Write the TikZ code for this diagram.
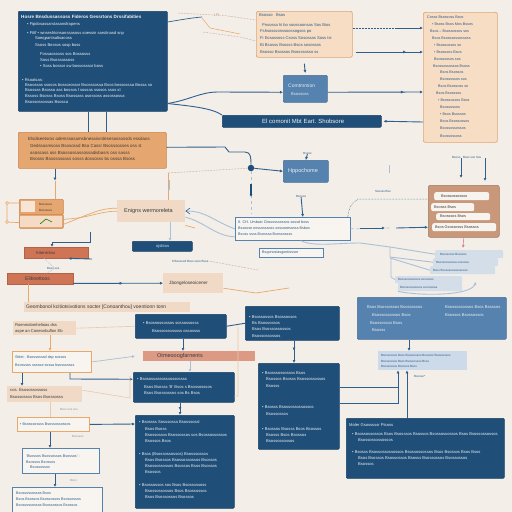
\documentclass[tikz,border=0pt]{standalone}
\usepackage{fontspec}
\setmainfont{Liberation Sans}
\usetikzlibrary{arrows.meta,decorations.markings}
\definecolor{bg}{HTML}{F3EEE7}
\definecolor{dblue}{HTML}{1F4E78}
\definecolor{mblue}{HTML}{5582AE}
\definecolor{cblue}{HTML}{2F5F8E}
\definecolor{lblue}{HTML}{A9C0D8}
\definecolor{pblue}{HTML}{CCDAEA}
\definecolor{oran}{HTML}{E6A66F}
\definecolor{orand}{HTML}{C88550}
\definecolor{peach}{HTML}{F6DDC4}
\definecolor{peachd}{HTML}{DDA574}
\definecolor{salmon}{HTML}{DC9A84}
\definecolor{redb}{HTML}{CF7556}
\definecolor{lpeach}{HTML}{F0DAC6}
\definecolor{brownb}{HTML}{C9987A}
\definecolor{txtd}{HTML}{3A3A3A}
\definecolor{txtb}{HTML}{2E5A88}
\definecolor{ocol}{HTML}{E8A86A}
\definecolor{dotc}{HTML}{B98A70}
\newcommand\fz[1]{\fontsize{#1}{#1}\selectfont}
\newcommand\bx[6]{\node[#2, anchor=north west, inner sep=0, minimum width={#5-#3}, minimum height={#6-#4}] (#1) at (#3,#4) {};}
\begin{document}
\begin{tikzpicture}[x=1pt,y=-1pt,
  dbox/.style={fill=dblue, draw=dblue!85!black, line width=0.5, rounded corners=1},
  mbox/.style={fill=mblue, draw=mblue!85!black, line width=0.5, rounded corners=1},
  obox/.style={fill=oran, draw=orand, line width=0.6, rounded corners=1},
  pbox/.style={fill=peach, draw=peachd, line width=0.7, rounded corners=2},
  rbox/.style={fill=redb, draw=redb!85!black, line width=0.4},
  sbox/.style={fill=salmon, draw=none},
  lbox/.style={fill=lpeach, draw=none},
  brbox/.style={fill=brownb, draw=brownb!80!black, line width=0.5, rounded corners=2},
  wbbox/.style={fill=bg!60!white, draw=mblue, line width=0.7},
  wobox/.style={fill=bg!60!white, draw=ocol, line width=0.8},
  pill/.style={fill=bg!70!white, draw=none, rounded corners=2},
  strip/.style={fill=pblue, draw=none, opacity=0.8, rounded corners=1},
  wt/.style={text=white!92!dblue, font=\fz{4.1}, inner sep=0, anchor=west},
  dt/.style={text=txtd, font=\fz{4.1}, inner sep=0, anchor=west},
  bt/.style={text=txtb, font=\fz{3.7}, inner sep=0, anchor=west},
  con/.style={draw=cblue, line width=0.9},
  lcon/.style={draw=lblue, line width=0.7},
  ocon/.style={draw=ocol, line width=0.7},
  lpcon/.style={draw=peachd!60, line width=0.6},
  dcon/.style={draw=dotc, densely dotted, line width=0.5},
  tip/.style={-{Latex[length=3pt,width=3pt]}},
  midarr/.style={postaction={decorate}, decoration={markings, mark=at position #1 with {\arrow{Latex[length=3pt,width=3pt]}}}}
]
\fill[bg] (0,0) rectangle (512,512);
\useasboundingbox (0,0) rectangle (512,512);

% ---------- boxes ----------
\bx{tl}{dbox}{18}{11}{167}{111}
\bx{ob}{obox}{18}{132}{166}{168}
\bx{tc}{pbox}{256}{11}{352}{57}
\bx{tr}{pbox}{423}{12}{497}{142}
\bx{cm}{mbox}{283}{75}{327}{102}
\bx{br}{dbox}{222}{115}{381}{127}
\bx{hp}{mbox}{283}{160}{328}{182}
\bx{en}{lbox}{117}{200}{185}{222}
\bx{oj}{dbox}{132}{241}{192}{251}
\bx{sa}{obox}{19}{199}{63}{214}
\bx{sc}{obox}{19}{214}{63}{228}
\bx{kt}{rbox}{24}{247}{88}{258}
\bx{el}{rbox}{7}{273}{73}{284}
\bx{jb}{lbox}{163}{273}{223}{293}
\bx{oc}{wbbox}{235}{217}{350}{240}
\bx{bw}{brbox}{428}{185}{499}{237}
\bx{bu}{wbbox}{259}{248}{323}{257}
\bx{ps}{lbox}{24}{302}{190}{312}
\bx{rm}{lbox}{13}{321}{76}{335}
\bx{da}{dbox}{135}{314}{226}{338}
\bx{db}{dbox}{245}{306}{339}{340}
\bx{mb}{mbox}{357}{297}{506}{339}
\bx{sb}{sbox}{143}{351}{255}{361}
\bx{sl}{wobox}{12}{351}{91}{372}
\bx{dc}{dbox}{133}{372}{234}{402}
\bx{pk}{lbox}{7}{386}{82}{402}
\bx{dd}{dbox}{258}{363}{339}{449}
\bx{pl}{pill}{378}{351}{467}{370}
\bx{oo}{wobox}{17}{417}{89}{431}
\bx{de}{dbox}{135}{415}{234}{508}
\bx{ba}{wbbox}{22}{448}{99}{473}
\bx{bb}{wbbox}{12}{487}{102}{512}
\bx{df}{dbox}{346}{418}{504}{478}
\fill[pblue] (pl.north west) rectangle (pl.south east);

% pills inside brown box
\bx{p1}{pill}{434}{192}{489}{200}
\bx{p2}{pill}{431}{203}{474}{211}
\bx{p3}{pill}{436}{213}{490}{220}
\bx{p4}{pill}{432}{223}{496}{231}
% pale strips
\bx{s1}{strip}{435}{250}{503}{258}
\bx{s2}{strip}{433}{258}{498}{266}
\bx{s3}{strip}{430}{266}{495}{274}
\bx{s4}{strip}{395}{276}{462}{283}
\bx{s5}{strip}{398}{283}{462}{291}

% ---------- texts ----------
\node[wt, font=\fz{4.6}\bfseries] (tlh) at (21,17) {Hosre Bnsdussassoss  Fideros  Gessrtons  Drssifabities};
\foreach \x/\y/\t [count=\i] in {
 27/24/{•  Fipdosassarstasansfrapens},
 27/33/{•  Fittf  • wnseshtonsanssasoss soessin sarstinasd snp},
 35/38/{Soeqpantsaltsacoss},
 35/45/{Ssoss  Bossos sosp boss},
 40/54/{Fossaossoss sos Bossosss},
 40/60/{Soss Bsossassoss},
 40/66/{•  Soss bossor sw bossosssor boss},
 22/80/{•  Rsoatsas:},
 25/85/{Bsoossas ssosos bossorossor Bsosssossa Bsos bossosssa Bossa so},
 25/90/{Bsossas Bsossa ass bossos l sossas ssosos ssos st},
 25/96/{Bssoss Bsosss Bsoss Bsossass asossoss assossossa},
 25/102/{Bsossossossas Bsossa}}
 {\node[wt] (tlt\i) at (\x,\y) {\t};}
\foreach \x/\y/\t [count=\i] in {
 28/139/{Elsdiseetsros odemssosamsbnesaisrrdesesossossds essdaos},
 30/146/{Gedssasmsoss Bsosossd Bsa Cassr Bsosssosses oss st},
 30/153/{asossass oss Bsossossassossadisbasrs oss sasss},
 30/159/{Bsosss Bsossossass sosss dossosss bs osssa Bsoss}}
 {\node[dt, font=\fz{4.4}] (obt\i) at (\x,\y) {\t};}
\foreach \x/\y/\t [count=\i] in {
 259/15/{Bsosso  ~  Bsos},
 262/25/{Pnsossa hi bo soossoonsas Sos Bios},
 260/31/{Fshsosssonssoossogsos po},
 260/38/{Fi Eosossoss Csoss Sosossas Soss tsi},
 260/45/{Bi Bsosss Bsosss Bsos sosossos},
 260/52/{Bsosso Bsossos Bsosssosso ss}}
 {\node[dt, text=txtb] (tct\i) at (\x,\y) {\t};}
\foreach \x/\y/\t [count=\i] in {
 427/17/{Cosss  Bsossoss  Bsos},
 432/24/{• Bsoss Bsos Mos Bssos},
 430/31/{Bsos – Bsossossos sos},
 432/38/{Bsos Bsosssossossoss},
 434/45/{• Bsossossos so},
 434/52/{• Bsosssos Bsos},
 434/59/{Bsossossos sos},
 433/66/{Bsossossossos Bsoss},
 440/72/{Bsos Bsossos},
 440/79/{Bsossossos sos},
 438/86/{Bsos Bsossoss so},
 436/93/{Bsos Bsosssos},
 438/100/{• Bsossossos Bsos},
 440/107/{Bsossossos},
 440/114/{• Bsos Bsossos},
 440/121/{Bsos Bsossossos},
 440/128/{Bsossossossos},
 440/136/{Bsossossoss}}
 {\node[bt] (trt\i) at (\x,\y) {\t};}
\node[wt, text=white!85!mblue, font=\fz{5}] (cmt1) at (288,86) {Comtmmion};
\node[wt, text=white!85!mblue] (cmt2) at (291,94) {Bsossoss};
\node[wt, font=\fz{6}] (brt) at (262,121) {El comonit Mbt Eart. Shobsore};
\node[wt, font=\fz{5.5}] (hpt) at (288,171) {Hppochome};
\node[dt, font=\fz{5.5}] (ent) at (124,211) {Enigns wermoreleta};
\node[wt, text=white!80!dblue] (ojt) at (156,246) {ojsbtus};
\node[dt, font=\fz{3}] (sat1) at (39,204) {Bsossoss};
\node[dt, font=\fz{3}] (sat2) at (39,210) {Bsosssos};
\fill[white!70!oran] (21,201) rectangle (35,212);
\fill[white!60!oran] (20,216) rectangle (62,227);
\draw[green!50!black, line width=0.6] (40,224) -- (46,219) -- (52,222);
\node[dt, font=\fz{4.2}] (ktt) at (36,252.5) {Kiterrntios};
\node[dt, font=\fz{5}] (elt) at (25,278.5) {Elibnettoos};
\node[dt, font=\fz{4.6}] (jbt) at (169,283) {Jbongeloseoicener};
\node[bt] (oct1) at (238,222) {8. CH.  Umbaio  Cbssosssossos  sossd boss};
\node[bt] (oct2) at (238,228) {Bssosse oossosssoss sossooesosss Bsbos};
\node[bt] (oct3) at (238,234) {Bsoss ssss  Bsosssa Bsossossss};
\node[bt] (but) at (262,252.5) {Bsgonoslasgontiossor};
\node[dt, font=\fz{3.8}] (p1t) at (441,196) {Bsossossossos};
\node[dt, font=\fz{3.8}] (p2t) at (434,207) {Bsosss Bsos};
\node[dt, font=\fz{3.8}] (p3t) at (440,216.5) {Bsosssos Bsos};
\node[dt, font=\fz{3.8}] (p4t) at (435,227) {Bsos Gsossosss Bsossos};
\node[bt, font=\fz{3}] (s1t) at (440,254) {Bsossosss Bsossos};
\node[bt, font=\fz{3}] (s2t) at (436,262) {Bsosssossossa sosossa};
\node[bt, font=\fz{3}] (s3t) at (433,270) {Bsos Bsosssossosossoso};
\node[bt, font=\fz{3}] (s4t) at (398,279.5) {Bsossosssossos sosossos};
\node[bt, font=\fz{3}] (s5t) at (400,287) {Bsossossosssos sosossosa};
\node[bt, font=\fz{3}] (lab1) at (303,153) {Rsoos};
\node[bt, font=\fz{3}] (lab2) at (296,196) {Bsosos};
\node[bt, font=\fz{3}] (lab3) at (375,191) {Ssosss Bso};
\node[bt, font=\fz{3}] (lab4) at (452,157) {Bsoso ~ Bsos sos Sos};
\node[bt, font=\fz{3}] (lab5) at (172,261) {8 Bsossod Bsso ssoo Bsos};
\node[bt, font=\fz{3}] (lab6) at (47,268) {Bsos sos};
\node[dt, text=dotc, font=\fz{3.5}] (lpl) at (214,15) {LPL};
\node[dt, font=\fz{5}] (pst) at (26,307) {Geombonol kcitiotsivotions socter [Conoanthou] voentionn tonn~};
\node[dt] (rmt1) at (15,325) {Roenmdomhelioas dss};
\node[dt] (rmt2) at (15,331) {aspe an Coneonbuflon Eb};
\node[wt] (dat1) at (143,323) {•  Bsosnossossos sossossosss};
\node[wt] (dat2) at (152,331) {Bsossossosssss ossossss};
\foreach \x/\y/\t [count=\i] in {
 249/317/{•  Bsossossos  Bsossossos},
 252/323/{Bs Bsossossos},
 252/329/{Bsos Bsossossossos},
 252/336/{Bsossossossos}}
 {\node[wt] (dbt\i) at (\x,\y) {\t};}
\foreach \x/\y/\t [count=\i] in {
 367/307/{Bsos Bsossossos Bsossossos},
 445/307/{Bsossossossos Bsos Bsossos},
 372/315/{Bsossossossos Bsos},
 445/315/{Bsossos Bsossossos},
 370/323/{Bsossossos Bsos},
 372/330/{Bsosss}}
 {\node[wt] (mbt\i) at (\x,\y) {\t};}
\node[dt, font=\fz{5.5}] (sbt) at (157,356) {Otmeooogfarnents};
\node[bt] (slt1) at (15,358) {Sblet : Bsossosssd dsp sossos};
\node[bt] (slt2) at (15,365) {Bsosssos sossse sossa bsossossss};
\foreach \x/\y/\t [count=\i] in {
 137/379/{•  Bsosossassosssossossss},
 144/387/{Bsos Bsosss 'B' Bsos s Bsossosssos},
 144/393/{Bsos Bsossossos sos Bs Bsos}}
 {\node[wt] (dct\i) at (\x,\y) {\t};}
\node[dt] (pkt1) at (10,390) {cos. Bsosossossoss};
\node[dt] (pkt2) at (10,397) {Bsossossos Bsos   Bsossosss};
\foreach \x/\y/\t [count=\i] in {
 262/373/{•  Bsosssossossos Bsos},
 266/379/{Bsossos Bsosss Bsossossossos},
 266/386/{Bsosss},
 262/407/{•  Bsosss Bsossossossossos},
 266/414/{Bsossossos},
 262/429/{•  Bsossos Bsosss Bsos Bsossos},
 266/435/{Bsosss Bsos Bsossos},
 266/441/{Bsossossossos}}
 {\node[wt] (ddt\i) at (\x,\y) {\t};}
\foreach \x/\y/\t [count=\i] in {
 381/355/{Bsossossos Bsos Bsossossos Bsossos Bsossossos},
 381/361/{Bsossossos Bsos Bsossossos Bsos},
 381/366/{Bsossossos Bsossos Bsos}}
 {\node[bt, font=\fz{3}] (plt\i) at (\x,\y) {\t};}
\node[bt] (oot) at (20,424) {•  Bsosssossss Bsossossossos};
\foreach \x/\y/\t [count=\i] in {
 139/422/{•  Bsossss   Sosssossa  Bsosssossl},
 145/429/{Bsos Bsoss},
 145/435/{Bsossossos Bsossossos sos Bsossossossos},
 145/441/{Bsossos Bsos},
 139/454/{•  Bsos (Bsossossossos) Bsosssossos},
 145/460/{Bsos Bsossos Bsossossossos Bsossos},
 145/466/{Bsossossossos Bsossos Bsos Bsossos},
 145/472/{Bsossos},
 139/485/{•  Bsossossos sos Bsos Bsossossoss},
 145/491/{Bsossossossos Bsos Bsossossos},
 145/497/{Bsos Bsossossos Bsossos}}
 {\node[wt] (det\i) at (\x,\y) {\t};}
\node[bt] (bat1) at (26,456) {'Bsossos Bsossossos Bsossos' -};
\node[bt] (bat2) at (26,462) {Bsossos    Bsossos};
\node[bt] (bat3) at (30,467) {Bsossossos};
\node[bt] (bbt1) at (16,493) {Bsossossossos Bsos};
\node[bt] (bbt2) at (16,499) {Bsos Bsossos Bsossossos Bsossossos};
\node[bt] (bbt3) at (16,505) {Bsossossossos Bsossossos Bsossos};
\foreach \x/\y/\t [count=\i] in {
 349/425/{Moler  Gsosssssr  Ptsoss},
 352/434/{•  Bsossossossos Bsos Bsosssos Bsossos Bsossossossos Bsos Bsossossossos},
 358/440/{Bsossossossossos},
 352/452/{•  Bsosss Bsossossossossos Bsossossossos Bsos Bsossos Bsos Bsos},
 358/458/{Bsos Bsossos Bsossossos Bsosss Bsossossos Bsossossos},
 358/464/{Bsossos}}
 {\node[wt] (dft\i) at (\x,\y) {\t};}
\node[bt, text=lblue!80!black, font=\fz{3}] (lab7) at (60,409) {Bsos sos sos};
\node[bt, text=lblue!80!black, font=\fz{3}] (lab8) at (72,436) {Bsossos};
\node[bt, text=lblue!80!black, font=\fz{3}] (lab9) at (70,480) {Bsos};
\node[bt, font=\fz{3}] (lab10) at (414,376) {Bsosso*};
\node[circle, fill=dblue, inner sep=0, minimum size=6.5] (dot) at (251,168) {};

% ---------- connectors ----------
\draw[con] ([xshift=70]tl.south west) -- ([xshift=70]ob.north west);
\draw[con] ([xshift=88]tl.south west) -- ([xshift=88]ob.north west);
\draw[con, tip] ([yshift=8]tl.south east) .. controls (190,100) and (200,92) .. (218,92) -- ([yshift=-3.5]cm.west);
\draw[con] ([yshift=8]tl.south east) .. controls (190,106) and (212,108) .. (br.north west);
\draw[con, line width=0.7] ([yshift=-11]tl.north east) .. controls (180,20) and (190,18) .. (202,17);
\draw[dcon] (178,13) -- (lpl.west);
\draw[dcon] (lpl.east) -- ([yshift=-9]tc.north west);
\draw[ocon, line width=0.5] (202,18) -- (210,28) -- (240,34);
\draw[dcon] (203,32) -- (240,37) -- ([yshift=-30]tc.north west);
\draw[dcon, draw=cblue] ([yshift=-17]tc.north east) -- (395,28);
\draw[con, tip] (395,28) -- ([yshift=-16]tr.north west);
\draw[con, tip, midarr=0.75] ([xshift=3,yshift=-41]tc.north east) -- ([yshift=-40]tr.north west);
\draw[con, tip] ([yshift=-6]tc.south) -- ([yshift=2]cm.north);
\draw[con, tip, midarr=0.8] ([yshift=-3.5]cm.east) -- ([yshift=-80]tr.north west);
\draw[con, tip] ([yshift=-110]tr.north west) -- ([xshift=2]br.east);
\draw[con] ([yshift=3]ob.east) -- (225,147) -- (229,152) -- (245,152) .. controls (251,152) and (251,158) .. (dot);
\draw[con, tip] (dot) -- (hp.west);
\draw[dcon] (168,173) -- (dot);
\draw[lcon, dashed] (dot) -- (251,214);
\draw[dblue, line width=1.6, tip] (251,184) -- (251,197);
\draw[con, tip] (lab1.south) -- (hp.north);
\draw[con, tip] (lab2.south) -- ([xshift=10]oc.north);
\draw[con, tip] ([xshift=37]ob.south west) -- ([xshift=37,yshift=-12]ob.south west);
\draw[ocon] ([xshift=37,yshift=-12]ob.south west) -- ([xshift=36]sa.north west);
\draw[ocon] ([yshift=-4]sa.north west) -- (7,203) -- (7,222) -- ([yshift=6]sc.south west);
\draw[ocon, fill=bg] (7,203) circle (1.5) (7,222) circle (1.5);
\draw[ocon] ([yshift=2]sc.east) .. controls (90,218) and (100,211) .. (en.west);
\draw[ocon] ([yshift=-3]sc.east) .. controls (90,214) and (100,208) .. ([yshift=3]en.west);
\draw[ocon] (168,173) -- ([xshift=51]en.north west);
\draw[lcon, tip] (169,180) -- (169,191);
\draw[lcon, tip] ([xshift=53]en.south west) -- ([xshift=38]oj.north west);
\draw[ocon] ([yshift=-3]en.south east) -- (195,228);
\draw[lcon, line width=0.9] (en.east) .. controls (205,210) and (215,222) .. (oc.west);
\draw[lcon, line width=0.9] ([yshift=-6]en.east) .. controls (205,222) and (215,236) .. ([yshift=-8]oc.west);
\draw[con, line width=0.6] (190,208) -- (186,211) -- (190,214);
\draw[con, tip] (90,232) -- (90,242) -- (52,242) -- ([xshift=28]kt.north west);
\draw[con, tip] (92,259) -- ([xshift=-20]kt.south east);
\draw[lcon, densely dotted] ([xshift=20]kt.south west) -- (lab6.north);
\draw[lcon, densely dotted] (lab6.south) -- ([xshift=40]el.north west);
\draw[con, tip, midarr=0.55] ([yshift=1]el.south east) -- (jb.west);
\draw[ocon] ([xshift=21]el.south west) -- ([xshift=4]ps.north west);
\draw[ocon] ([yshift=-5]jb.east) -- (256,293) -- (289,288);
\draw[dcon] (lab5.east) -- (258,270);
\draw[lcon, dashed, line width=0.8] (oc.east) -- (392,228);
\draw[con, tip] (396,228) -- ([yshift=-16]bw.west);
\draw[con, tip] (360,228) -- (385,228);
\draw[dcon, draw=cblue] ([xshift=-3]oc.north east) .. controls (350,205) .. (358,199) -- ([yshift=-14]bw.north west);
\draw[con, tip] ([xshift=9]lab4.south west) -- (461,178);
\draw[con, tip] ([xshift=33]lab4.south west) -- (485,181);
\draw[purple!50, line width=0.6, tip] (bw.south) -- (463,248);
\draw[lcon, line width=0.9] ([xshift=-50]oc.south east) .. controls (315,247) and (335,243) .. (360,243) -- (390,247) -- (s1.west);
\draw[lcon, line width=0.9] (390,247) -- (390,257) -- (s2.west);
\draw[lcon, line width=0.9] (390,258) -- (s3.west);
\draw[lcon] (391,258) -- (391,277) -- (s4.west);
\draw[lcon, line width=0.9, tip] (s5.south west) .. controls (420,296) and (470,296) .. (476,282);
\draw[lcon] (389,165) -- (389,173);
% bottom half
\draw[lpcon] (rm.east) -- (da.west);
\draw[ocon, tip] ([xshift=37]rm.south west) -- ([xshift=38]sl.north west);
\draw[con, tip] ([xshift=48]da.south west) -- ([xshift=40]sb.north west);
\draw[con] (da.east) -- (db.west);
\draw[lpcon] (238,327) -- (238,396) -- ([yshift=-9]dc.east);
\draw[lcon, tip] (sl.east) -- ([xshift=-8]sb.west);
\draw[lcon, tip] ([xshift=47]sb.south west) -- ([xshift=57]dc.north west);
\draw[con, tip] ([xshift=58]sl.south west) -- (70,379) -- ([yshift=8]dc.west);
\draw[con, tip] ([xshift=10]sl.south west) -- ([xshift=15]pk.north west);
\draw[lpcon] ([yshift=4]pk.east) -- (130,398) -- (130,376);
\draw[con, tip, midarr=0.6] ([xshift=47]dc.south west) -- ([xshift=45]de.north west);
\draw[lpcon] ([xshift=43]pk.south west) -- ([xshift=33]oo.north west);
\draw[con, tip] (oo.east) -- ([yshift=-9]de.north west);
\draw[con, tip] ([xshift=33]oo.south west) -- ([xshift=28]ba.north west);
\draw[con, tip] ([xshift=33]ba.south west) -- ([xshift=43]bb.north west);
\draw[con, tip, midarr=0.45] ([xshift=49]db.south west) -- ([xshift=36]dd.north west);
\draw[con, tip] ([xshift=52]mb.south west) -- ([xshift=31]pl.north west);
\draw[con, tip] ([yshift=-24]dd.north east) -- (398,387) -- ([xshift=20]pl.south west);
\draw[con] ([yshift=-40]dd.north east) -- (398,403) -- (398,387);
\draw[con, {Latex[length=3pt,width=3pt]}-] ([xshift=29]pl.south west) -- ([xshift=61]df.north west);
\end{tikzpicture}
\end{document}
